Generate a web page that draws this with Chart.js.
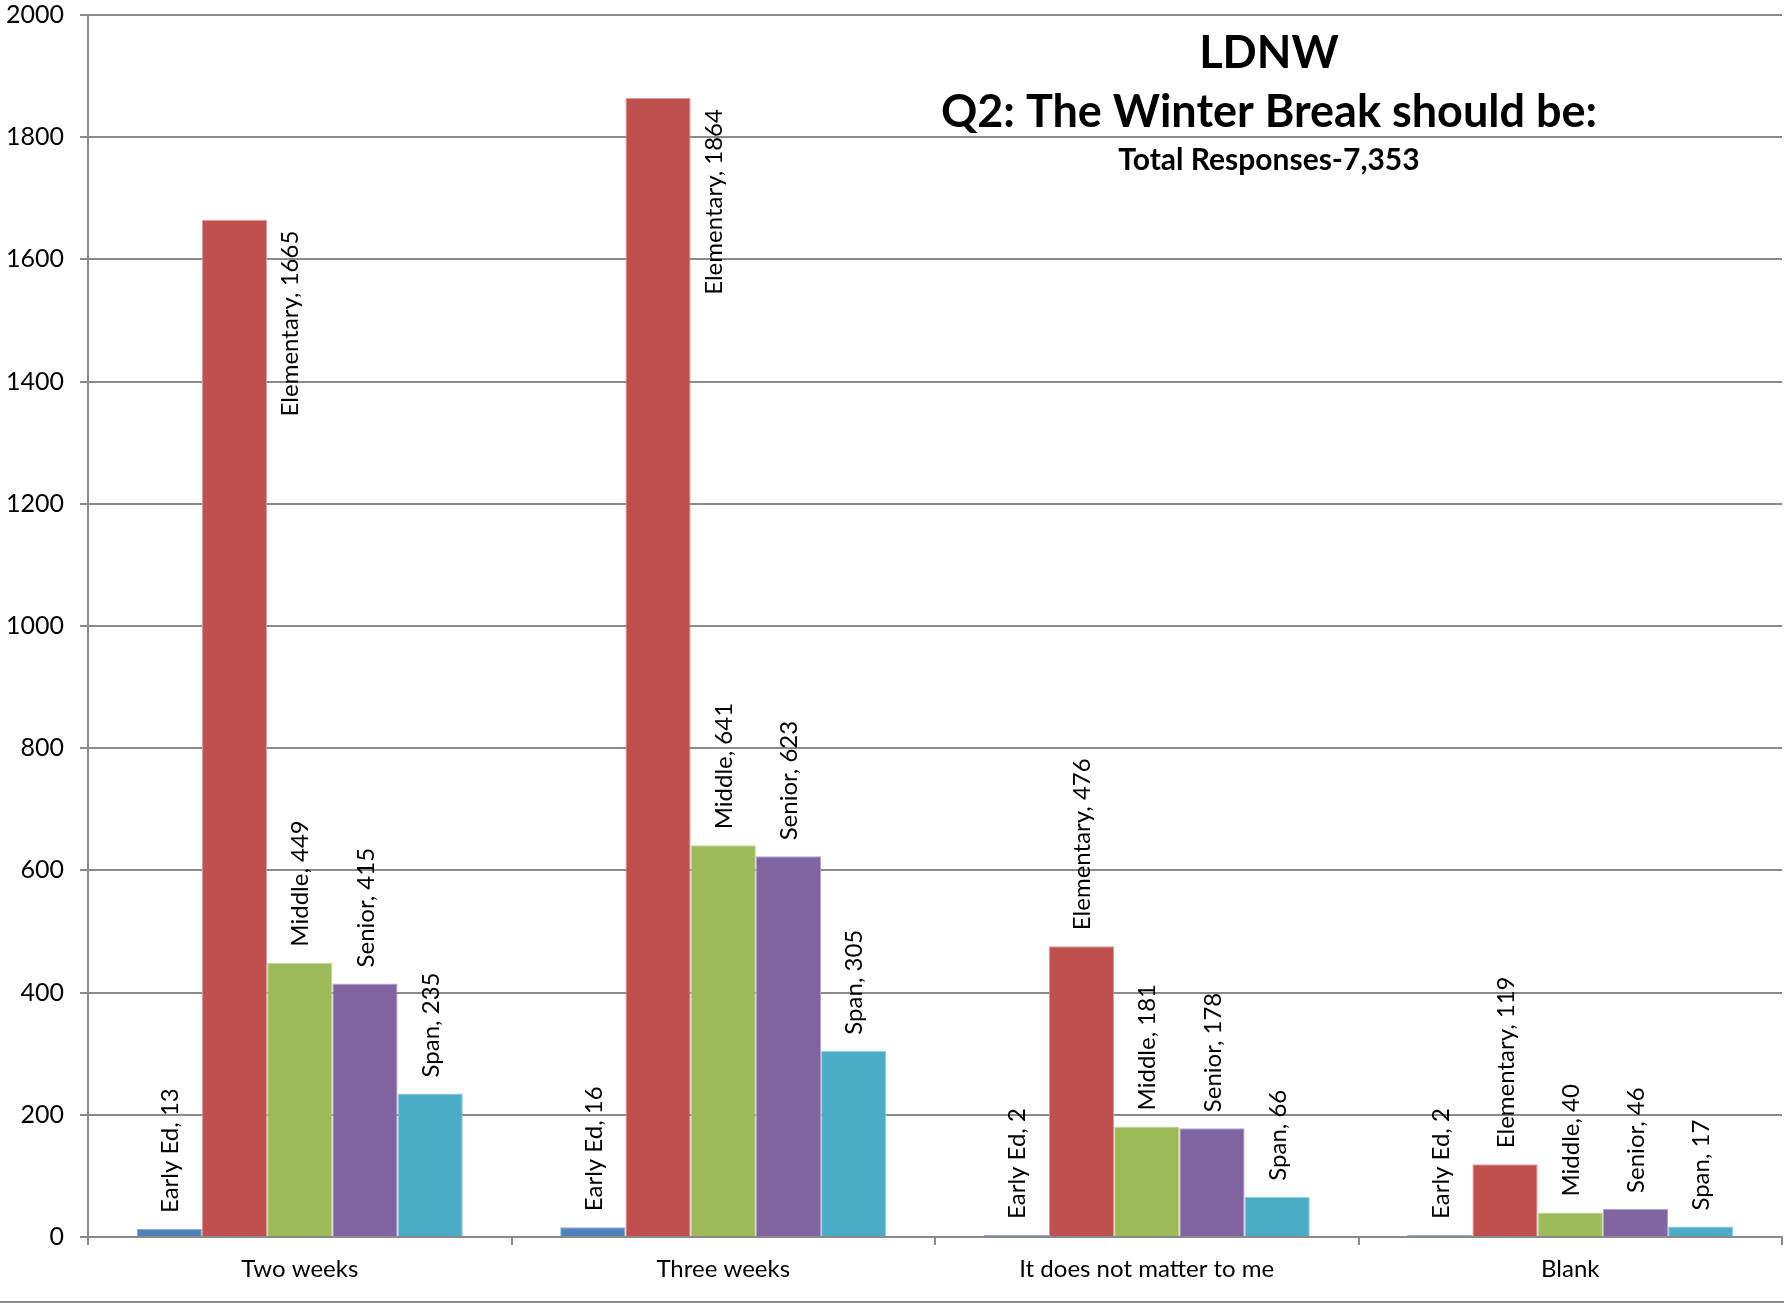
<!DOCTYPE html>
<html>
<head>
<meta charset="utf-8">
<title>LDNW Q2</title>
<script src="https://cdn.jsdelivr.net/npm/chart.js@4/dist/chart.umd.min.js"></script>
<style>
    html, body { margin: 0; padding: 0; background: #ffffff; }
    canvas { display: block; }
</style>
</head>
<body>
<canvas id="chart" width="1784" height="1304"></canvas>
<script>
const categories = ["Two weeks", "Three weeks", "It does not matter to me", "Blank"];
const seriesNames = ["Early Ed", "Elementary", "Middle", "Senior", "Span"];
const earlyEd = [13, 16, 2, 2];
const elementary = [1665, 1864, 476, 119];
const middle = [449, 641, 181, 40];
const senior = [415, 623, 178, 46];
const span = [235, 305, 66, 17];
const titleLines = ["LDNW", "Q2: The Winter Break should be:", "Total Responses-7,353"];

const FONT = "Lato, 'Open Sans', sans-serif";
const fillColors = ["#4F81BD", "#C0504D", "#9BBB59", "#8064A2", "#4BACC6"];
const edgeColors = ["#8EABD6", "#DB9A98", "#C3D69B", "#B2A1C7", "#93CDDD"];
const gridColor = "#8A8A8A";

function makeDataset(i, values) {
    return {
        label: seriesNames[i],
        data: values,
        backgroundColor: fillColors[i],
        borderColor: edgeColors[i],
        borderWidth: 1,
        borderSkipped: "bottom",
        minBarLength: 2,
    };
}

// rotated "Series, value" labels; if it does not fit above the bar, put it beside the bar
const barLabels = {
    id: "barLabels",
    afterDatasetsDraw(chart) {
        const ctx = chart.ctx;
        const top = chart.chartArea.top;
        ctx.save();
        ctx.font = "24px " + FONT;
        ctx.fillStyle = "#000000";
        ctx.textBaseline = "middle";
        chart.data.datasets.forEach((ds, i) => {
            chart.getDatasetMeta(i).data.forEach((bar, j) => {
                const text = ds.label + ", " + ds.data[j];
                const w = ctx.measureText(text).width;
                ctx.save();
                if (bar.y - 16 - w < top + 60) {
                    ctx.translate(bar.x + bar.width * 0.84, bar.y + 11);
                    ctx.rotate(-Math.PI / 2);
                    ctx.textAlign = "right";
                } else {
                    ctx.translate(bar.x, bar.y - 16);
                    ctx.rotate(-Math.PI / 2);
                    ctx.textAlign = "left";
                }
                ctx.fillText(text, 0, 1);
                ctx.restore();
            });
        });
        ctx.restore();
    }
};

const overlayTitle = {
    id: "overlayTitle",
    afterDraw(chart) {
        const ctx = chart.ctx;
        ctx.save();
        ctx.fillStyle = "#000000";
        ctx.textAlign = "center";
        ctx.textBaseline = "middle";
        ctx.font = "bold 45px " + FONT;
        ctx.fillText(titleLines[0], 1269, 53);
        ctx.fillText(titleLines[1], 1269, 112);
        ctx.font = "bold 30px " + FONT;
        ctx.fillText(titleLines[2], 1269, 160);
        // outer frame line at the bottom
        ctx.strokeStyle = gridColor;
        ctx.lineWidth = 2;
        ctx.beginPath();
        ctx.moveTo(0, 1302);
        ctx.lineTo(1784, 1302);
        ctx.stroke();
        ctx.restore();
    }
};

new Chart(document.getElementById("chart"), {
    type: "bar",
    data: {
        labels: categories,
        datasets: [
            makeDataset(0, earlyEd),
            makeDataset(1, elementary),
            makeDataset(2, middle),
            makeDataset(3, senior),
            makeDataset(4, span),
        ],
    },
    options: {
        responsive: false,
        animation: false,
        layout: { padding: { top: 15, right: 2, bottom: 0, left: 0 } },
        datasets: { bar: { categoryPercentage: 0.77, barPercentage: 1.0 } },
        plugins: {
            legend: { display: false },
            title: { display: false },
            tooltip: { enabled: false },
        },
        scales: {
            x: {
                afterFit: (scale) => {
                    scale.height = 67;
                    scale.paddingLeft = 0;
                    scale.paddingRight = 0;
                },
                grid: {
                    display: true,
                    drawOnChartArea: false,
                    drawTicks: true,
                    tickLength: 8,
                    color: gridColor,
                    lineWidth: 2,
                },
                border: { display: true, color: gridColor, width: 2 },
                ticks: {
                    color: "#000000",
                    padding: 10,
                    maxRotation: 0,
                    font: { family: FONT, size: 24 },
                },
            },
            y: {
                min: 0,
                max: 2000,
                afterFit: (scale) => {
                    scale.width = 88;
                    scale.paddingTop = 0;
                    scale.paddingBottom = 0;
                },
                grid: {
                    color: gridColor,
                    lineWidth: 2,
                    tickLength: 8,
                },
                border: { display: true, color: gridColor, width: 2 },
                ticks: {
                    stepSize: 200,
                    color: "#000000",
                    padding: 16,
                    font: { family: FONT, size: 25 },
                    callback: (v) => String(v),
                },
            },
        },
    },
    plugins: [barLabels, overlayTitle],
});
</script>
</body>
</html>
